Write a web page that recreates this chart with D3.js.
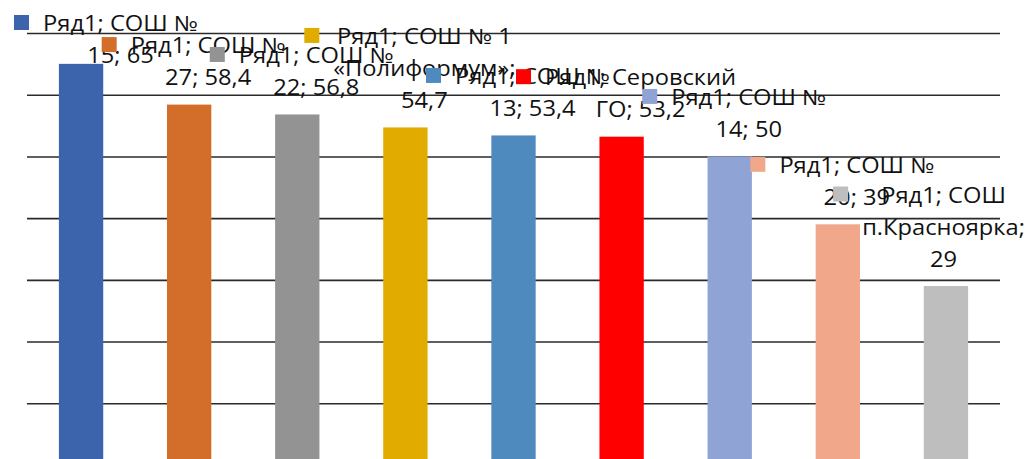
<!DOCTYPE html>
<html><head><meta charset="utf-8">
<script src="https://cdn.jsdelivr.net/npm/d3@7"></script>
<style>html,body{margin:0;padding:0;background:#fff;}svg{display:block;}</style>
</head><body>
<svg id="chart" width="1025" height="459"></svg>
<script>
const seriesName = "Ряд1";
const categories = ["СОШ № 15","СОШ № 27","СОШ № 22","СОШ № 1 «Полиформум»","СОШ № 13","Серовский ГО","СОШ № 14","СОШ № 20","СОШ п.Красноярка"];
const values = [65, 58.4, 56.8, 54.7, 53.4, 53.2, 50, 39, 29];
const colors = ["#3B64AD","#D36E2A","#939393","#E1AB00","#4F8ABE","#FF0000","#8FA4D4","#F0A78A","#BEBEBE"];
const yTicks = [0,10,20,30,40,50,60,70];
// label line breaks (as wrapped in the original)
const labelLines = [
  ["Ряд1; СОШ №","15; 65"],
  ["Ряд1; СОШ №","27; 58,4"],
  ["Ряд1; СОШ №","22; 56,8"],
  ["Ряд1; СОШ № 1","«Полиформум»;","54,7"],
  ["Ряд1; СОШ №","13; 53,4"],
  ["Ряд1; Серовский","ГО; 53,2"],
  ["Ряд1; СОШ №","14; 50"],
  ["Ряд1; СОШ №","20; 39"],
  ["Ряд1; СОШ","п.Красноярка;","29"]
];

const W = 1025, H = 459;
const svg = d3.select("#chart");
const x = d3.scaleBand().domain(categories).range([27, 1000]).paddingInner(0.59).paddingOuter(0.295);
const y = d3.scaleLinear().domain([0, 70]).range([465, 33]);

// gridlines
const yAxis = d3.axisLeft(y).tickValues(yTicks).tickSize(-(1000 - 27)).tickFormat("");
const g = svg.append("g").attr("transform", "translate(27,0)").call(yAxis);
g.select(".domain").remove();
g.selectAll(".tick line").attr("stroke", "#2a2a2a").attr("stroke-width", 1.6);

// bars
svg.append("g").selectAll("rect").data(values).join("rect")
  .attr("x", (d, i) => x(categories[i]))
  .attr("y", d => y(d))
  .attr("width", x.bandwidth())
  .attr("height", d => y(0) - y(d))
  .attr("fill", (d, i) => colors[i]);

// labels
const fontFamily = "'Open Sans', 'Noto Sans', 'Liberation Sans', sans-serif";
const fontSize = 21;
const lineH = 32;
const keySize = 15, keyGap = 14;
// measure to derive horizontal stretch of the original label font
const meas = svg.append("text").attr("font-family", fontFamily).attr("font-size", fontSize).text("Ряд1; СОШ №");
const sx = 155 / meas.node().getComputedTextLength();
meas.remove();

const lg = svg.append("g");
labelLines.forEach((lines, i) => {
  const widths = lines.map(t => {
    const tn = lg.append("text").attr("font-family", fontFamily).attr("font-size", fontSize).text(t);
    const w = tn.node().getComputedTextLength() * sx; tn.remove(); return w;
  });
  const textW = d3.max(widths);
  const blockW = keySize + keyGap + textW;
  let cx = x(categories[i]) + x.bandwidth() / 2 + 4.5;
  let left = cx - blockW / 2;
  if (left < 14) left = 14;
  if (left + blockW > W) left = W - blockW;
  const lastBase = y(values[i]) - 19.5;
  let firstBase = lastBase - (lines.length - 1) * lineH;
  if (firstBase < 31) firstBase = 31;
  const tcx = left + keySize + keyGap + textW / 2;
  lg.append("rect").attr("x", left).attr("y", firstBase - 16).attr("width", keySize).attr("height", keySize).attr("fill", colors[i]);
  lines.forEach((t, k) => {
    lg.append("text")
      .attr("transform", `translate(${tcx},${firstBase + k * lineH}) scale(${sx},1)`)
      .attr("text-anchor", "middle")
      .attr("font-family", fontFamily).attr("font-size", fontSize)
      .attr("fill", "#111")
      .text(t);
  });
});
</script>
</body></html>
